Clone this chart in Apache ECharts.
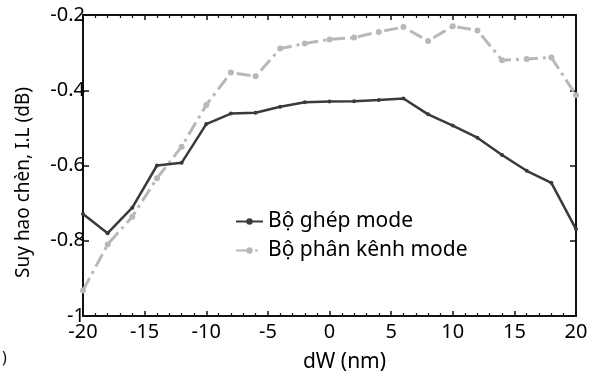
<!DOCTYPE html>
<html><head><meta charset="utf-8">
<script src="https://cdn.jsdelivr.net/npm/echarts@6/dist/echarts.min.js"></script>
<style>html,body{margin:0;padding:0;background:#fff}#c{width:603px;height:373px}</style>
</head><body><div id="c"></div>
<script>
const dW = [-20,-18,-16,-14,-12,-10,-8,-6,-4,-2,0,2,4,6,8,10,12,14,16,18,20];
const ghepMode = [-0.729,-0.780,-0.712,-0.600,-0.593,-0.490,-0.462,-0.460,-0.444,-0.432,-0.430,-0.429,-0.426,-0.422,-0.464,-0.494,-0.526,-0.572,-0.614,-0.646,-0.769];
const phanKenhMode = [-0.932,-0.810,-0.736,-0.634,-0.550,-0.439,-0.353,-0.363,-0.289,-0.276,-0.265,-0.260,-0.245,-0.232,-0.269,-0.230,-0.241,-0.320,-0.317,-0.313,-0.413];
const seriesNames = ['Bộ ghép mode','Bộ phân kênh mode'];
const xTitle = 'dW (nm)';
const yTitle = 'Suy hao chèn, I.L (dB)';

const FONT = 'Noto Sans';
const INK = '#000';
const chart = echarts.init(document.getElementById('c'), null, {renderer:'canvas'});
const axisLine = {show:true, onZero:false, lineStyle:{color:'#111', width:2}};
chart.setOption({
  animation:false,
  textStyle:{fontFamily:FONT},
  grid:{left:83, right:27, top:15, bottom:57, containLabel:false, outerBoundsMode:'none'},
  legend:{
    orient:'vertical', left:235, top:211, padding:0, itemGap:8, itemWidth:27, itemHeight:8,
    textStyle:{fontFamily:FONT, fontSize:21, color:INK},
    data:seriesNames
  },
  xAxis:[{
    type:'value', min:-20, max:20, interval:5,
    name:xTitle, nameLocation:'middle', nameGap:36,
    nameTextStyle:{fontFamily:FONT, fontSize:21, color:INK, padding:[0,0,0,30]},
    axisLine:axisLine,
    axisTick:{show:true, inside:true, length:5, lineStyle:{color:'#111', width:1.5}},
    minorTick:{show:true, splitNumber:5, length:3, lineStyle:{color:'#111', width:1.2}},
    axisLabel:{fontFamily:FONT, fontSize:20, color:INK, margin:6},
    splitLine:{show:false}
  },{
    type:'value', position:'top', min:-20, max:20, interval:5,
    axisLine:axisLine,
    axisTick:{show:true, inside:true, length:5, lineStyle:{color:'#111', width:1.5}},
    minorTick:{show:true, splitNumber:5, length:3, lineStyle:{color:'#111', width:1.2}},
    axisLabel:{show:false}, splitLine:{show:false}
  }],
  yAxis:[{
    type:'value', min:-1, max:-0.2, interval:0.2,
    name:yTitle, nameLocation:'middle', nameGap:50, nameRotate:90,
    nameTextStyle:{fontFamily:FONT, fontSize:19, color:INK, padding:[0,34,0,0]},
    axisLine:axisLine,
    axisTick:{show:true, inside:true, length:6, lineStyle:{color:'#111', width:1.5}},
    axisLabel:{fontFamily:FONT, fontSize:20, color:INK, margin:-2,
      formatter:v=>String(Math.round(v*10)/10)},
    splitLine:{show:false}
  },{
    type:'value', position:'right', min:-1, max:-0.2, interval:0.2,
    axisLine:axisLine,
    axisTick:{show:true, inside:true, length:6, lineStyle:{color:'#111', width:1.5}},
    axisLabel:{show:false}, splitLine:{show:false}
  }],
  series:[{
    name:seriesNames[0], type:'line', xAxisIndex:0, yAxisIndex:0,
    data:dW.map((x,i)=>[x, ghepMode[i]]),
    symbol:'circle', symbolSize:4, showSymbol:true,
    lineStyle:{color:'#3a3a3a', width:2.5},
    itemStyle:{color:'#3a3a3a'}, z:3
  },{
    name:seriesNames[1], type:'line', xAxisIndex:0, yAxisIndex:0,
    data:dW.map((x,i)=>[x, phanKenhMode[i]]),
    symbol:'circle', symbolSize:6, showSymbol:true,
    lineStyle:{color:'#b8b8b8', width:3, type:[14,5,3,5]},
    itemStyle:{color:'#b8b8b8'}, z:2
  }],
  graphic:[{type:'text', left:2, top:350, style:{text:')', font:'16px "Noto Sans"', fill:'#111'}}]
});
</script></body></html>
